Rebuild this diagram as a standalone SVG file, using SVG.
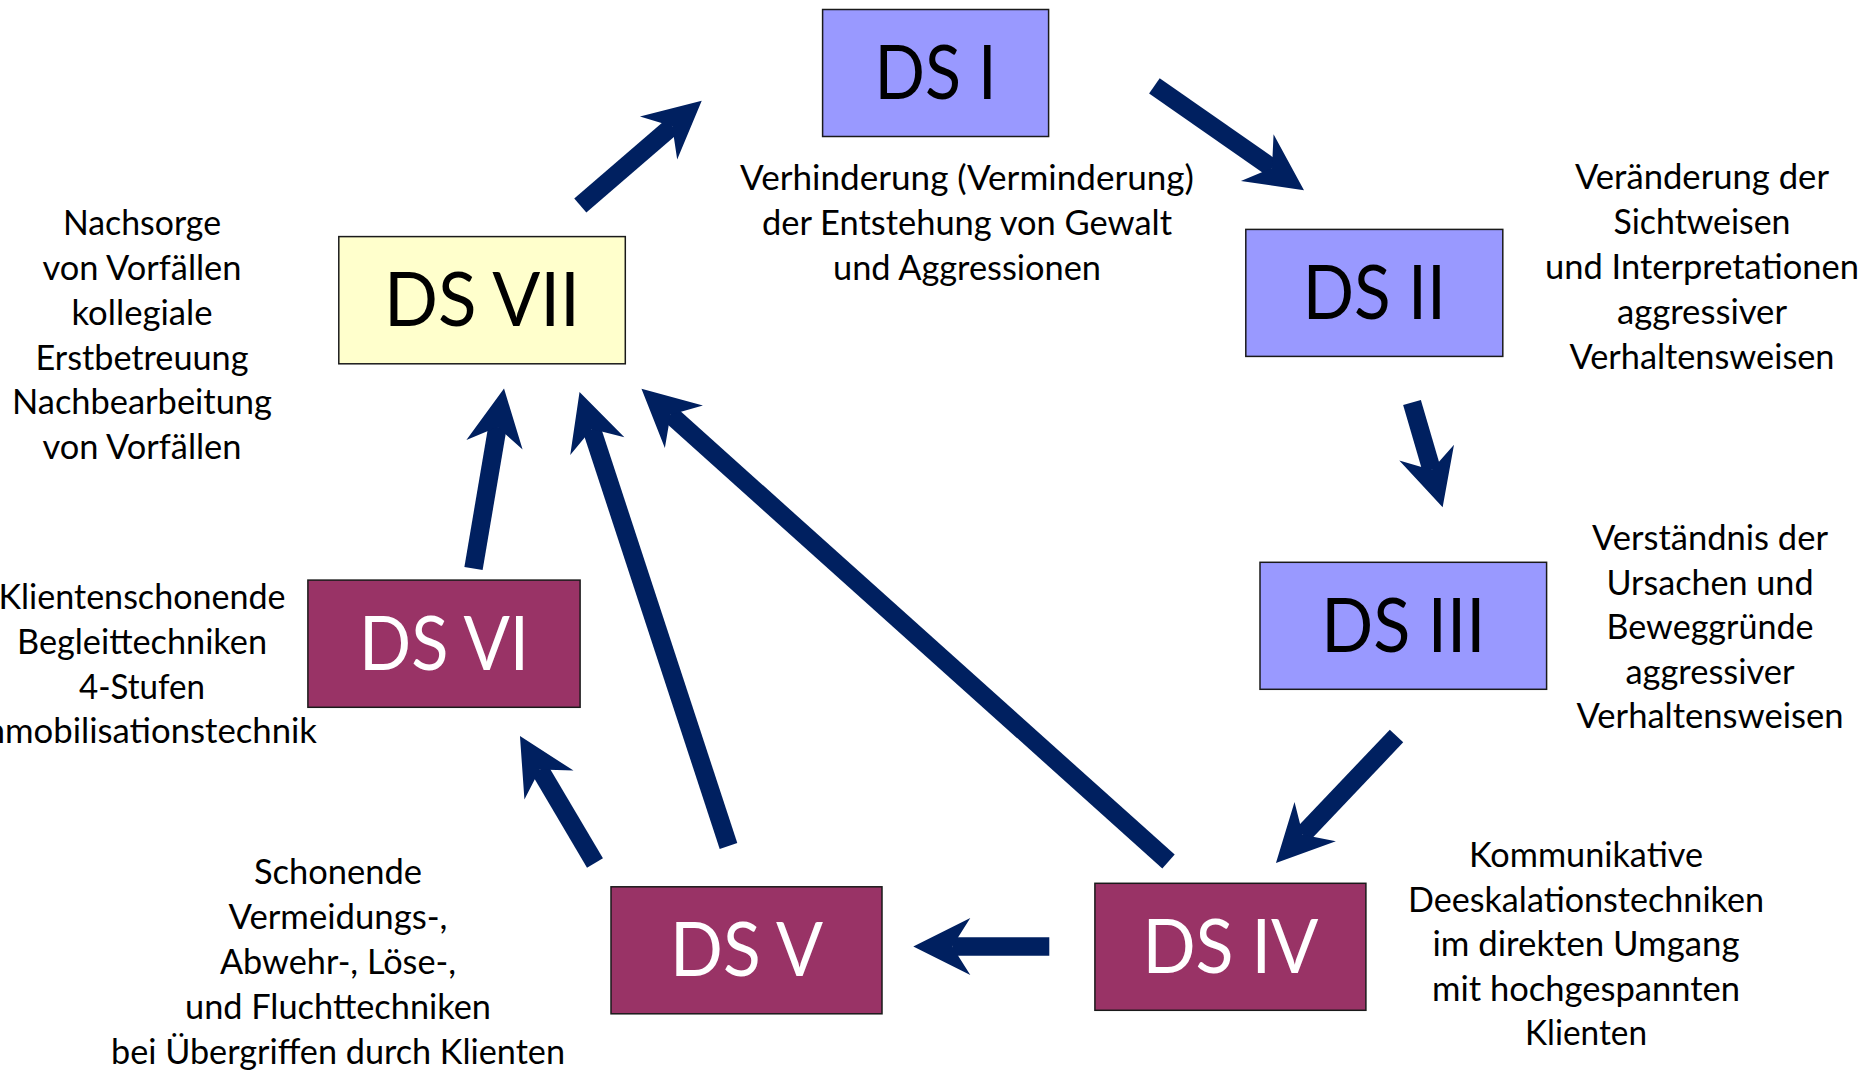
<svg xmlns="http://www.w3.org/2000/svg" width="1864" height="1070" viewBox="0 0 1864 1070">
<style>
.box{stroke:#1a1a1a;stroke-width:1.5}
.blue{fill:#9999FF}
.yellow{fill:#FFFFCC}
.purple{fill:#993366}
.lbl{font-family:Lato,"Liberation Sans",sans-serif;font-size:76px;text-anchor:middle}
.dark{fill:#000}
.light{fill:#fff}
.txt{font-family:Lato,"Liberation Sans",sans-serif;font-size:34px;text-anchor:middle;fill:#000}
.arr{stroke:#002060;stroke-width:18.5;fill:none;marker-end:url(#head)}
</style>
<defs>
<marker id="head" markerUnits="userSpaceOnUse" orient="auto" refX="0" refY="0" markerWidth="100" markerHeight="100" overflow="visible">
<path d="M39,0 L-18,-28.5 L0,0 L-18,28.5 Z" fill="#002060"/>
</marker>
</defs>
<rect width="1864" height="1070" fill="#fff"/>
<g id="connectors">
<line class="arr" x1="580.3" y1="205.5" x2="672.2" y2="126.2"/>
<line class="arr" x1="1154.4" y1="85.8" x2="1272" y2="167.9"/>
<line class="arr" x1="1412" y1="402.5" x2="1431.7" y2="469.9"/>
<line class="arr" x1="1396.5" y1="736" x2="1302.8" y2="834.7"/>
<line class="arr" x1="1049.3" y1="946.5" x2="952.3" y2="946.5"/>
<line class="arr" x1="595" y1="863" x2="539.8" y2="769.6"/>
<line class="arr" x1="728.5" y1="846" x2="591.7" y2="429.1"/>
<line class="arr" x1="1168.5" y1="861.5" x2="670.5" y2="414.7"/>
<line class="arr" x1="473.5" y1="568.5" x2="497.5" y2="427"/>
</g>
<g id="ds1">
<rect class="box blue" x="822.6" y="9.5" width="226" height="127"/>
<text class="lbl dark" x="935.6" y="99" textLength="122" lengthAdjust="spacingAndGlyphs">DS I</text>
<text class="txt" x="967" y="190" textLength="454" lengthAdjust="spacingAndGlyphs">Verhinderung (Verminderung)</text>
<text class="txt" x="967" y="235" textLength="410" lengthAdjust="spacingAndGlyphs">der Entstehung von Gewalt</text>
<text class="txt" x="967" y="280" textLength="268" lengthAdjust="spacingAndGlyphs">und Aggressionen</text>
</g>
<g id="ds2">
<rect class="box blue" x="1245.8" y="229.4" width="257" height="127"/>
<text class="lbl dark" x="1374.3" y="319" textLength="143" lengthAdjust="spacingAndGlyphs">DS II</text>
<text class="txt" x="1702" y="189" textLength="254" lengthAdjust="spacingAndGlyphs">Veränderung der</text>
<text class="txt" x="1702" y="234" textLength="177" lengthAdjust="spacingAndGlyphs">Sichtweisen</text>
<text class="txt" x="1702" y="279" textLength="314" lengthAdjust="spacingAndGlyphs">und Interpretationen</text>
<text class="txt" x="1702" y="324" textLength="170" lengthAdjust="spacingAndGlyphs">aggressiver</text>
<text class="txt" x="1702" y="369" textLength="265" lengthAdjust="spacingAndGlyphs">Verhaltensweisen</text>
</g>
<g id="ds3">
<rect class="box blue" x="1260" y="562.3" width="286.6" height="127"/>
<text class="lbl dark" x="1403.3" y="651.5" textLength="164" lengthAdjust="spacingAndGlyphs">DS III</text>
<text class="txt" x="1710" y="550" textLength="236" lengthAdjust="spacingAndGlyphs">Verständnis der</text>
<text class="txt" x="1710" y="594.5" textLength="207" lengthAdjust="spacingAndGlyphs">Ursachen und</text>
<text class="txt" x="1710" y="639" textLength="207" lengthAdjust="spacingAndGlyphs">Beweggründe</text>
<text class="txt" x="1710" y="683.5" textLength="169" lengthAdjust="spacingAndGlyphs">aggressiver</text>
<text class="txt" x="1710" y="728" textLength="267" lengthAdjust="spacingAndGlyphs">Verhaltensweisen</text>
</g>
<g id="ds4">
<rect class="box purple" x="1094.9" y="883.3" width="271" height="127"/>
<text class="lbl light" x="1230.4" y="973" textLength="176" lengthAdjust="spacingAndGlyphs">DS IV</text>
<text class="txt" x="1586" y="867" textLength="234" lengthAdjust="spacingAndGlyphs">Kommunikative</text>
<text class="txt" x="1586" y="911.5" textLength="356" lengthAdjust="spacingAndGlyphs">Deeskalationstechniken</text>
<text class="txt" x="1586" y="956" textLength="307" lengthAdjust="spacingAndGlyphs">im direkten Umgang</text>
<text class="txt" x="1586" y="1000.5" textLength="308" lengthAdjust="spacingAndGlyphs">mit hochgespannten</text>
<text class="txt" x="1586" y="1045" textLength="122" lengthAdjust="spacingAndGlyphs">Klienten</text>
</g>
<g id="ds5">
<rect class="box purple" x="611" y="886.8" width="271" height="127"/>
<text class="lbl light" x="746.5" y="976" textLength="153" lengthAdjust="spacingAndGlyphs">DS V</text>
<text class="txt" x="338" y="884" textLength="168" lengthAdjust="spacingAndGlyphs">Schonende</text>
<text class="txt" x="338" y="929" textLength="219" lengthAdjust="spacingAndGlyphs">Vermeidungs-,</text>
<text class="txt" x="338" y="974" textLength="236" lengthAdjust="spacingAndGlyphs">Abwehr-, Löse-,</text>
<text class="txt" x="338" y="1019" textLength="306" lengthAdjust="spacingAndGlyphs">und Fluchttechniken</text>
<text class="txt" x="338" y="1064" textLength="454" lengthAdjust="spacingAndGlyphs">bei Übergriffen durch Klienten</text>
</g>
<g id="ds6">
<rect class="box purple" x="307.9" y="580.1" width="272.2" height="127.2"/>
<text class="lbl light" x="444" y="669.5" textLength="170" lengthAdjust="spacingAndGlyphs">DS VI</text>
<text class="txt" x="142" y="609" textLength="287" lengthAdjust="spacingAndGlyphs">Klientenschonende</text>
<text class="txt" x="142" y="654" textLength="250" lengthAdjust="spacingAndGlyphs">Begleittechniken</text>
<text class="txt" x="142" y="698.5" textLength="126" lengthAdjust="spacingAndGlyphs">4-Stufen</text>
<text class="txt" x="142" y="743" textLength="350" lengthAdjust="spacingAndGlyphs">Immobilisationstechnik</text>
</g>
<g id="ds7">
<rect class="box yellow" x="338.8" y="236.6" width="286.5" height="127.2"/>
<text class="lbl dark" x="482" y="326" textLength="196" lengthAdjust="spacingAndGlyphs">DS VII</text>
<text class="txt" x="142" y="235" textLength="158" lengthAdjust="spacingAndGlyphs">Nachsorge</text>
<text class="txt" x="142" y="280" textLength="199" lengthAdjust="spacingAndGlyphs">von Vorfällen</text>
<text class="txt" x="142" y="325" textLength="141" lengthAdjust="spacingAndGlyphs">kollegiale</text>
<text class="txt" x="142" y="369.5" textLength="213" lengthAdjust="spacingAndGlyphs">Erstbetreuung</text>
<text class="txt" x="142" y="414" textLength="260" lengthAdjust="spacingAndGlyphs">Nachbearbeitung</text>
<text class="txt" x="142" y="459" textLength="199" lengthAdjust="spacingAndGlyphs">von Vorfällen</text>
</g>
</svg>
